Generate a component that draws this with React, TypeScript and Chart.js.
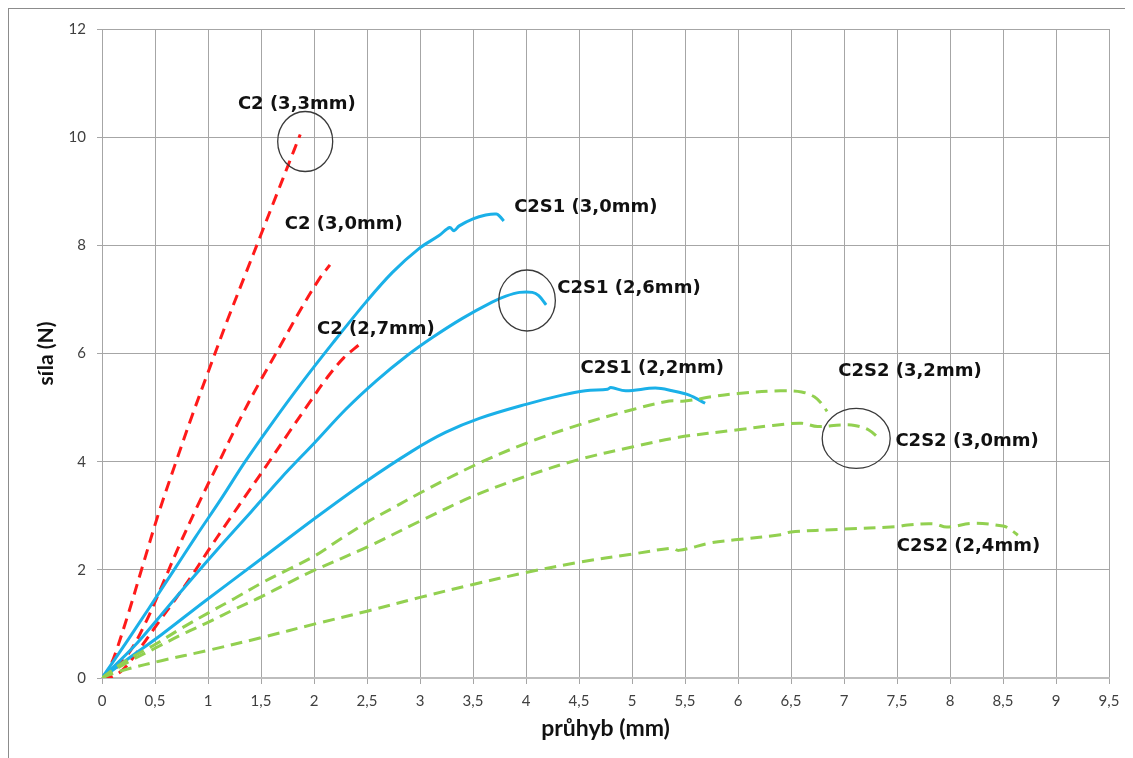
import React, { useEffect, useRef } from "react";
import { Chart, registerables } from "chart.js";

Chart.register(...registerables);

// ---- axis ticks ----
const xTickValues = [0, 0.5, 1, 1.5, 2, 2.5, 3, 3.5, 4, 4.5, 5, 5.5, 6, 6.5, 7, 7.5, 8, 8.5, 9, 9.5];
const xTickLabels = ["0", "0,5", "1", "1,5", "2", "2,5", "3", "3,5", "4", "4,5", "5", "5,5", "6", "6,5", "7", "7,5", "8", "8,5", "9", "9,5"];
const yTickValues = [0, 2, 4, 6, 8, 10, 12];
const yTickLabels = ["0", "2", "4", "6", "8", "10", "12"];

const xTitle = "průhyb (mm)";
const yTitle = "síla (N)";

// ---- series (x = průhyb mm, y = síla N) ----
const c2_33: number[][] = [
  [0, 0], [0.06, 0.15], [0.125, 0.45], [0.25, 1.2], [0.38, 2.05], [0.53, 3.02], [0.69, 3.95],
  [0.85, 4.85], [1.0, 5.65], [1.18, 6.6], [1.36, 7.5], [1.5, 8.2], [1.65, 8.95], [1.76, 9.5], [1.87, 10.05],
];
const c2_30: number[][] = [
  [0, 0], [0.06, 0.05], [0.25, 0.45], [0.41, 1.02], [0.56, 1.68], [0.72, 2.41], [0.91, 3.22], [1.1, 3.98],
  [1.29, 4.74], [1.49, 5.48], [1.69, 6.17], [1.87, 6.8], [2.05, 7.38], [2.15, 7.64],
];
const c2_27: number[][] = [
  [0, 0], [0.06, 0.0], [0.19, 0.14], [0.34, 0.5], [0.53, 1.02], [0.69, 1.45], [0.85, 1.9], [1.0, 2.35],
  [1.19, 2.9], [1.38, 3.44], [1.57, 3.98], [1.76, 4.53], [1.96, 5.1], [2.13, 5.57], [2.28, 5.92], [2.43, 6.17],
];
const c2s1_30: number[][] = [
  [0, 0], [0.25, 0.72], [0.44, 1.28], [0.66, 1.94], [0.88, 2.6], [1.13, 3.33], [1.35, 4.0], [1.6, 4.7],
  [1.87, 5.42], [2.18, 6.2], [2.49, 6.95], [2.74, 7.5], [2.99, 7.94], [3.18, 8.18], [3.28, 8.33], [3.32, 8.27],
  [3.37, 8.36], [3.5, 8.49], [3.62, 8.56], [3.72, 8.58], [3.75, 8.54], [3.79, 8.45],
];
const c2s1_26: number[][] = [
  [0, 0], [0.31, 0.6], [0.56, 1.17], [0.85, 1.84], [1.13, 2.47], [1.41, 3.08], [1.69, 3.7], [2.01, 4.36],
  [2.3, 4.97], [2.59, 5.5], [2.87, 5.95], [3.12, 6.3], [3.4, 6.65], [3.68, 6.95], [3.81, 7.06], [3.94, 7.13],
  [4.06, 7.13], [4.12, 7.07], [4.19, 6.9],
];
const c2s1_22: number[][] = [
  [0, 0], [0.25, 0.36], [0.56, 0.8], [0.97, 1.42], [1.5, 2.2], [2.0, 2.94], [2.48, 3.62], [2.93, 4.2],
  [3.24, 4.54], [3.56, 4.8], [4.0, 5.06], [4.34, 5.23], [4.56, 5.31], [4.77, 5.34], [4.8, 5.37], [4.94, 5.31],
  [5.22, 5.36], [5.38, 5.31], [5.54, 5.23], [5.69, 5.08],
];
const c2s2_32: number[][] = [
  [0, 0], [0.1, 0.15], [0.25, 0.35], [0.5, 0.62], [0.75, 0.92], [1.0, 1.2], [1.25, 1.47], [1.5, 1.75],
  [1.75, 2.0], [2.0, 2.25], [2.25, 2.57], [2.5, 2.88], [2.75, 3.15], [3.0, 3.42], [3.5, 3.92], [4.0, 4.34],
  [4.5, 4.68], [5.0, 4.96], [5.35, 5.12], [5.5, 5.12], [5.75, 5.2], [6.0, 5.26], [6.4, 5.31], [6.6, 5.29],
  [6.72, 5.2], [6.79, 5.07], [6.84, 4.93],
];
const c2s2_30: number[][] = [
  [0, 0], [0.1, 0.13], [0.25, 0.3], [0.5, 0.55], [0.75, 0.8], [1.0, 1.03], [1.25, 1.27], [1.5, 1.5],
  [1.75, 1.75], [2.0, 1.99], [2.5, 2.42], [3.0, 2.9], [3.5, 3.36], [4.0, 3.73], [4.5, 4.04], [5.0, 4.27],
  [5.44, 4.45], [6.0, 4.59], [6.33, 4.67], [6.6, 4.71], [6.75, 4.65], [6.97, 4.68], [7.1, 4.67], [7.23, 4.59],
  [7.35, 4.4],
];
const c2s2_24: number[][] = [
  [0, 0], [0.1, 0.08], [0.25, 0.17], [0.56, 0.32], [1.0, 0.51], [1.51, 0.75], [2.01, 1.0], [2.51, 1.24],
  [3.0, 1.49], [3.5, 1.73], [4.0, 1.95], [4.5, 2.14], [5.0, 2.29], [5.38, 2.4], [5.44, 2.36], [5.75, 2.5],
  [6.0, 2.56], [6.4, 2.65], [6.5, 2.7], [6.97, 2.75], [7.5, 2.8], [7.6, 2.83], [7.85, 2.85], [7.97, 2.79],
  [8.22, 2.86], [8.5, 2.81], [8.56, 2.76], [8.64, 2.64],
];

// ---- annotations (data coordinates) ----
const annoTexts = ["C2 (3,3mm)", "C2 (3,0mm)", "C2 (2,7mm)", "C2S1 (3,0mm)", "C2S1 (2,6mm)", "C2S1 (2,2mm)", "C2S2 (3,2mm)", "C2S2 (3,0mm)", "C2S2 (2,4mm)"];
const annoX = [1.282, 1.725, 2.028, 3.888, 4.295, 4.515, 6.946, 7.485, 7.498];
const annoY = [10.6, 8.39, 6.45, 8.71, 7.21, 5.73, 5.67, 4.38, 2.43];
const ringX = [1.917, 4.01, 7.115];
const ringY = [9.92, 6.98, 4.43];

const RED = "#ff1a1a";
const BLUE = "#1ab0e8";
const GREEN = "#92d050";

const toPts = (a: number[][]) => a.map(([x, y]) => ({ x, y }));

const annotationPlugin = {
  id: "annos",
  afterDatasetsDraw(chart: any) {
    const { ctx, scales } = chart;
    const xs = scales.x;
    const ys = scales.y;
    ctx.save();
    const rx = [27.5, 28.3, 34];
    const ry = [30, 30.5, 30];
    ctx.strokeStyle = "#3a3a3a";
    ctx.lineWidth = 1.3;
    for (let i = 0; i < ringX.length; i++) {
      ctx.beginPath();
      ctx.ellipse(xs.getPixelForValue(ringX[i]), ys.getPixelForValue(ringY[i]), rx[i], ry[i], 0, 0, Math.PI * 2);
      ctx.stroke();
    }
    ctx.fillStyle = "#111";
    ctx.font = "bold 18px 'DejaVu Sans'";
    ctx.textAlign = "left";
    ctx.textBaseline = "middle";
    for (let i = 0; i < annoTexts.length; i++) {
      ctx.fillText(annoTexts[i], xs.getPixelForValue(annoX[i]), ys.getPixelForValue(annoY[i]));
    }
    ctx.restore();
  },
};

export default function App() {
  const ref = useRef<HTMLCanvasElement | null>(null);

  useEffect(() => {
    if (!ref.current) return;
    const mk = (label: string, data: number[][], color: string, dash: number[]) => ({
      label,
      data: toPts(data),
      borderColor: color,
      backgroundColor: color,
      borderWidth: 3,
      borderDash: dash,
      pointRadius: 0,
      fill: false,
      tension: 0.35,
    });
    const chart = new Chart(ref.current, {
      type: "line",
      data: {
        datasets: [
          mk(annoTexts[6], c2s2_32, GREEN, [12, 7]),
          mk(annoTexts[7], c2s2_30, GREEN, [12, 7]),
          mk(annoTexts[8], c2s2_24, GREEN, [12, 7]),
          mk(annoTexts[3], c2s1_30, BLUE, []),
          mk(annoTexts[4], c2s1_26, BLUE, []),
          mk(annoTexts[5], c2s1_22, BLUE, []),
          mk(annoTexts[0], c2_33, RED, [11, 7]),
          mk(annoTexts[1], c2_30, RED, [11, 7]),
          mk(annoTexts[2], c2_27, RED, [11, 7]),
        ],
      },
      options: {
        animation: false,
        responsive: false,
        parsing: false as any,
        layout: { padding: { left: 0, top: 16, right: 24, bottom: 0 } },
        plugins: { legend: { display: false }, tooltip: { enabled: false } },
        scales: {
          x: {
            type: "linear",
            min: 0,
            max: 9.5,
            afterBuildTicks: (s: any) => {
              s.ticks = xTickValues.map((v) => ({ value: v }));
            },
            afterFit: (s: any) => {
              s.height = 80;
            },
            ticks: {
              autoSkip: false,
              maxRotation: 0,
              padding: 8,
              color: "#404040",
              font: { family: "Lato", size: 15 },
              callback: (_v: any, i: number) => xTickLabels[i],
            },
            grid: { color: "#a6a6a6", lineWidth: 1, tickLength: 6 },
            border: { color: "#bdbdbd", width: 2 },
            title: {
              display: true,
              text: xTitle,
              color: "#111",
              font: { family: "Lato", size: 23, weight: "bold" },
              padding: { top: 0, bottom: 16 },
            },
          },
          y: {
            type: "linear",
            min: 0,
            max: 12,
            afterBuildTicks: (s: any) => {
              s.ticks = yTickValues.map((v) => ({ value: v }));
            },
            afterFit: (s: any) => {
              s.width = 93;
            },
            ticks: {
              padding: 11,
              color: "#404040",
              font: { family: "Lato", size: 15 },
              callback: (_v: any, i: number) => yTickLabels[i],
            },
            grid: { color: "#a6a6a6", lineWidth: 1, tickLength: 5 },
            border: { color: "#a6a6a6", width: 1 },
            title: {
              display: true,
              text: yTitle,
              color: "#111",
              font: { family: "Lato", size: 21, weight: "bold" },
              padding: { top: 25, bottom: 0 },
            },
          },
        },
      },
      plugins: [annotationPlugin],
    } as any);
    return () => chart.destroy();
  }, []);

  return (
    <div
      style={{
        position: "relative",
        width: 1125,
        height: 750,
        borderLeft: "1px solid #8c8c8c",
        borderTop: "1px solid #8c8c8c",
        background: "#fff",
        overflow: "hidden",
      }}
    >
      <canvas ref={ref} width={1124} height={749} style={{ display: "block" }} />
    </div>
  );
}
